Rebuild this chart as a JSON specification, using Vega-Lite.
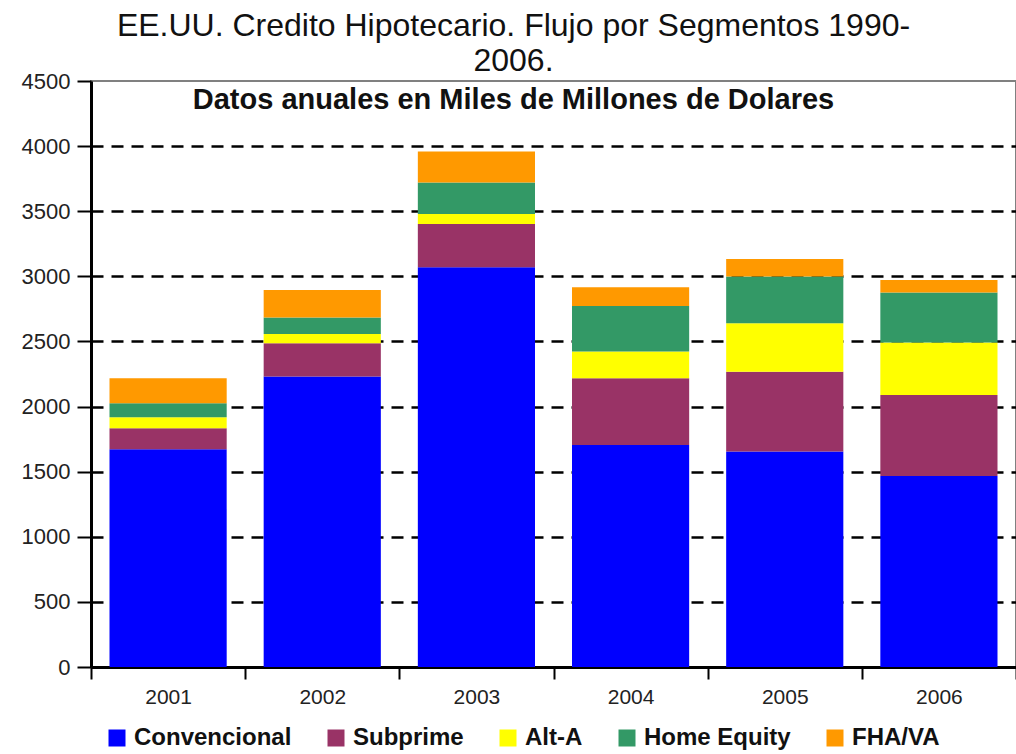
{
  "$schema": "https://vega.github.io/schema/vega-lite/v6.json",
  "autosize": "none",
  "width": 925,
  "height": 586,
  "padding": {"left": 91, "top": 81, "right": 0, "bottom": 87},
  "background": "white",
  "config": {
    "view": {"stroke": "#808080", "strokeWidth": 2},
    "font": "Liberation Sans"
  },
  "title": {
    "text": ["EE.UU. Credito Hipotecario. Flujo por Segmentos 1990-", "2006."],
    "subtitle": "Datos anuales en Miles de Millones de Dolares",
    "anchor": "middle",
    "dx": -40,
    "offset": -46,
    "lineHeight": 35,
    "font": "Liberation Sans",
    "fontSize": 32,
    "fontWeight": "normal",
    "color": "#111111",
    "subtitleFont": "Liberation Sans",
    "subtitleFontSize": 29,
    "subtitleFontWeight": "bold",
    "subtitleColor": "#111111",
    "subtitlePadding": 8
  },
  "data": {
    "values": [
      {"year": "2001", "segment": "Convencional", "value": 1672},
      {"year": "2001", "segment": "Subprime", "value": 161},
      {"year": "2001", "segment": "Alt-A", "value": 85},
      {"year": "2001", "segment": "Home Equity", "value": 107},
      {"year": "2001", "segment": "FHA/VA", "value": 192},
      {"year": "2002", "segment": "Convencional", "value": 2230},
      {"year": "2002", "segment": "Subprime", "value": 256},
      {"year": "2002", "segment": "Alt-A", "value": 72},
      {"year": "2002", "segment": "Home Equity", "value": 125},
      {"year": "2002", "segment": "FHA/VA", "value": 213},
      {"year": "2003", "segment": "Convencional", "value": 3070},
      {"year": "2003", "segment": "Subprime", "value": 332},
      {"year": "2003", "segment": "Alt-A", "value": 77},
      {"year": "2003", "segment": "Home Equity", "value": 241},
      {"year": "2003", "segment": "FHA/VA", "value": 238},
      {"year": "2004", "segment": "Convencional", "value": 1705},
      {"year": "2004", "segment": "Subprime", "value": 512},
      {"year": "2004", "segment": "Alt-A", "value": 205},
      {"year": "2004", "segment": "Home Equity", "value": 351},
      {"year": "2004", "segment": "FHA/VA", "value": 143},
      {"year": "2005", "segment": "Convencional", "value": 1654},
      {"year": "2005", "segment": "Subprime", "value": 614},
      {"year": "2005", "segment": "Alt-A", "value": 372},
      {"year": "2005", "segment": "Home Equity", "value": 358},
      {"year": "2005", "segment": "FHA/VA", "value": 136},
      {"year": "2006", "segment": "Convencional", "value": 1467},
      {"year": "2006", "segment": "Subprime", "value": 622},
      {"year": "2006", "segment": "Alt-A", "value": 402},
      {"year": "2006", "segment": "Home Equity", "value": 384},
      {"year": "2006", "segment": "FHA/VA", "value": 97}
    ]
  },
  "transform": [
    {"calculate": "indexof(['Convencional', 'Subprime', 'Alt-A', 'Home Equity', 'FHA/VA'], datum.segment)", "as": "stackOrder"}
  ],
  "mark": {"type": "bar", "width": {"band": 0.76}},
  "encoding": {
    "x": {
      "field": "year",
      "type": "nominal",
      "scale": {"paddingInner": 0, "paddingOuter": 0},
      "axis": {
        "title": null,
        "labelAngle": 0,
        "labelFont": "Liberation Sans",
        "labelFontSize": 21,
        "labelColor": "#222222",
        "labelPadding": 7,
        "domainColor": "black",
        "domainWidth": 3,
        "tickColor": "black",
        "tickWidth": 2,
        "tickSize": 12,
        "tickBand": "extent",
        "grid": false
      }
    },
    "y": {
      "field": "value",
      "type": "quantitative",
      "stack": "zero",
      "scale": {"domain": [0, 4500], "nice": false},
      "axis": {
        "title": null,
        "format": "d",
        "values": [0, 500, 1000, 1500, 2000, 2500, 3000, 3500, 4000, 4500],
        "labelFont": "Liberation Sans",
        "labelFontSize": 22,
        "labelColor": "#222222",
        "labelPadding": 7,
        "domainColor": "black",
        "domainWidth": 3,
        "tickColor": "black",
        "tickWidth": 2,
        "tickSize": 14,
        "grid": true,
        "gridColor": "black",
        "gridWidth": 2.5,
        "gridDash": [12, 8],
        "gridOpacity": {"condition": {"test": "datum.value > 0 && datum.value < 4500", "value": 1}, "value": 0}
      }
    },
    "color": {
      "field": "segment",
      "type": "nominal",
      "sort": ["Convencional", "Subprime", "Alt-A", "Home Equity", "FHA/VA"],
      "scale": {
        "domain": ["Convencional", "Subprime", "Alt-A", "Home Equity", "FHA/VA"],
        "range": ["#0000FF", "#993366", "#FFFF00", "#339966", "#FF9900"]
      },
      "legend": {
        "title": null,
        "orient": "none",
        "direction": "horizontal",
        "legendX": 14,
        "legendY": 645,
        "padding": 0,
        "symbolType": "square",
        "symbolSize": 289,
        "symbolStrokeWidth": 0,
        "symbolOpacity": 1,
        "labelFont": "Liberation Sans",
        "labelFontSize": 24,
        "labelFontWeight": "bold",
        "labelColor": "#111111",
        "labelOffset": 5,
        "columnPadding": 32,
        "labelLimit": 300
      }
    },
    "order": {"field": "stackOrder", "type": "quantitative", "sort": "ascending"}
  }
}
